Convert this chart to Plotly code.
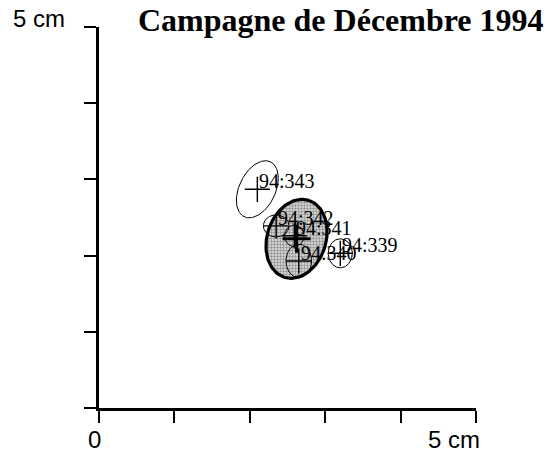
import numpy as np
import plotly.graph_objects as go

# Daily positions (cm) for the December 1994 campaign
days = ["94:343", "94:342", "94:341", "94:340", "94:339"]
x_pos = [2.10, 2.35, 2.59, 2.65, 3.20]
y_pos = [2.87, 2.39, 2.26, 1.93, 2.03]
# error ellipse parameters: semi-major, semi-minor (cm), tilt from vertical (deg)
semi_major = [0.40, 0.17, 0.14, 0.22, 0.19]
semi_minor = [0.24, 0.145, 0.13, 0.17, 0.16]
tilt_deg = [26, 90, 0, 0, 0]

# Mean position and its ellipse
mean_x, mean_y = 2.62, 2.22
mean_major, mean_minor, mean_tilt = 0.53, 0.39, 18

axis_ticks = [0, 1, 2, 3, 4, 5]


def ellipse(cx, cy, a, b, tilt):
    t = np.linspace(0, 2 * np.pi, 120)
    th = np.radians(tilt)
    ux, uy = np.sin(th), np.cos(th)
    vx, vy = np.cos(th), -np.sin(th)
    ex = cx + a * np.cos(t) * ux + b * np.sin(t) * vx
    ey = cy + a * np.cos(t) * uy + b * np.sin(t) * vy
    return ex, ey


fig = go.Figure()

# shaded mean ellipse
ex, ey = ellipse(mean_x, mean_y, mean_major, mean_minor, mean_tilt)
fig.add_trace(go.Scatter(
    x=ex, y=ey, mode="lines", fill="toself",
    line=dict(color="black", width=3.2),
    fillcolor="#b5b5b5",
    fillpattern=dict(shape=".", fgcolor="#444444", bgcolor="#e0e0e0",
                     size=3, solidity=0.5),
    hoverinfo="skip", showlegend=False))

# daily ellipses
for i in range(len(days)):
    ex, ey = ellipse(x_pos[i], y_pos[i], semi_major[i], semi_minor[i], tilt_deg[i])
    fig.add_trace(go.Scatter(
        x=ex, y=ey, mode="lines",
        line=dict(color="black", width=1),
        hoverinfo="skip", showlegend=False))

# daily crosses
fig.add_trace(go.Scatter(
    x=x_pos, y=y_pos, mode="markers",
    marker=dict(symbol="cross-thin", size=18,
                line=dict(color="black", width=1.4)),
    showlegend=False))

# mean cross
fig.add_trace(go.Scatter(
    x=[mean_x], y=[mean_y], mode="markers",
    marker=dict(symbol="cross-thin", size=20,
                line=dict(color="black", width=3)),
    showlegend=False))

serif = "Liberation Serif, Times New Roman, serif"
sans = "Liberation Sans, Arial, sans-serif"

for i, d in enumerate(days):
    fig.add_annotation(x=x_pos[i], y=y_pos[i], text=d, showarrow=False,
                       xanchor="left", yanchor="middle", xshift=0, yshift=8,
                       font=dict(family=serif, size=20, color="black"))

fig.add_annotation(xref="paper", yref="paper", x=0.099, y=1.019,
                   text="<b>Campagne de Décembre 1994</b>",
                   showarrow=False, xanchor="left", yanchor="middle",
                   font=dict(family=serif, size=32, color="black"))
fig.add_annotation(xref="paper", yref="paper", x=-0.085, y=1.021, text="5 cm",
                   showarrow=False, xanchor="right", yanchor="middle",
                   font=dict(family=sans, size=24, color="black"))
fig.add_annotation(xref="paper", yref="paper", x=-0.011, y=-0.083, text="0",
                   showarrow=False, xanchor="center", yanchor="middle",
                   font=dict(family=sans, size=24, color="black"))
fig.add_annotation(xref="paper", yref="paper", x=1.016, y=-0.083, text="5 cm",
                   showarrow=False, xanchor="right", yanchor="middle",
                   font=dict(family=sans, size=24, color="black"))

axis_style = dict(range=[0, 5], tickvals=axis_ticks, showticklabels=False,
                  showgrid=False, zeroline=False, showline=True,
                  linecolor="black", linewidth=3, ticks="outside",
                  ticklen=12, tickwidth=2, tickcolor="black", fixedrange=True)

fig.update_xaxes(**axis_style)
fig.update_yaxes(**axis_style)

fig.update_layout(
    width=549, height=453,
    margin=dict(l=99, r=73, t=27, b=45),
    plot_bgcolor="white", paper_bgcolor="white",
    showlegend=False,
)

fig.write_html("out.html")
